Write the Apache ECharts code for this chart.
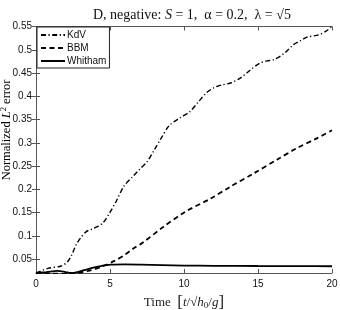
<!DOCTYPE html>
<html><head><meta charset="utf-8">
<script src="https://cdn.jsdelivr.net/npm/echarts@6/dist/echarts.min.js"></script>
<style>html,body{margin:0;padding:0;background:#fff}#c{width:340px;height:310px}</style>
</head><body><div id="c"></div>
<script>
const kdvT = [0,0.8,1.7,2.1,2.4,2.7,3.0,3.4,3.9,4.5,4.95,5.4,5.95,6.5,7.0,7.5,8.0,8.5,9.0,9.7,10.4,11.0,11.5,12.0,12.5,13.1,13.8,14.5,15.1,15.6,16.1,16.8,17.4,17.9,18.3,19.1,19.6,20];
const kdvV = [0.02,0.03,0.035,0.043,0.058,0.08,0.095,0.109,0.116,0.127,0.148,0.173,0.207,0.226,0.243,0.259,0.285,0.312,0.337,0.353,0.367,0.389,0.407,0.418,0.424,0.428,0.439,0.457,0.471,0.476,0.479,0.493,0.511,0.52,0.527,0.532,0.54,0.55];
const bbmT = [0,1,2,2.5,3.0,3.6,4.4,5.3,5.95,6.6,7.2,8.6,10.1,11.8,13.1,14.7,16.3,17.6,19,20];
const bbmV = [0.02,0.019,0.018,0.019,0.021,0.025,0.033,0.046,0.058,0.073,0.085,0.119,0.152,0.18,0.205,0.234,0.264,0.288,0.31,0.327];
const whiT = [0,0.7,1.45,2.0,2.35,2.8,3.24,3.8,4.37,5.05,6,7.1,8.5,10,12,15,18,20];
const whiV = [0.02,0.022,0.0245,0.022,0.02,0.022,0.026,0.031,0.035,0.038,0.0385,0.038,0.037,0.036,0.0355,0.035,0.0347,0.0345];
const yTicks = [0.05,0.1,0.15,0.2,0.25,0.3,0.35,0.4,0.45,0.5,0.55];
const xTicks = [0,5,10,15,20];
const seriesNames = ['KdV','BBM','Whitham'];

const zip = (a,b)=>a.map((t,i)=>[t,b[i]]);
const chart = echarts.init(document.getElementById('c'), null, {renderer:'canvas'});
const serif = '"Liberation Serif","DejaVu Serif",serif';
const sans = '"Liberation Sans",Arial,sans-serif';
const axisCol = '#555';
const rs = (o)=>Object.assign({fontFamily:serif,fontSize:14,color:'#111',fontWeight:'normal'},o);
chart.setOption({
  animation:false,
  backgroundColor:'#fff',
  title:{
    text:'{n|D, negative: }{i|S}{n| = 1,  α = 0.2,  λ = √5}',
    left:88, top:3,
    textStyle:{fontWeight:'normal',rich:{n:rs({}),i:rs({fontStyle:'italic'})}}
  },
  graphic:[{
    type:'text', x:7, y:130, rotation:Math.PI/2,
    style:{
      text:'{n|Normalized }{i|L}{s|2}{n| error}',
      align:'center', verticalAlign:'middle',
      rich:{n:rs({fontSize:12.5,color:'#808080'}),i:rs({fontSize:12.5,fontStyle:'italic',color:'#808080'}),s:rs({fontSize:8.5,color:'#808080',padding:[0,0,6,0]})}
    }
  }],
  grid:{left:36,right:8,top:26.5,bottom:37,containLabel:false,outerBoundsMode:'none'},
  legend:{
    data:seriesNames, orient:'vertical', left:37, top:27,
    backgroundColor:'#fff', borderColor:'#222', borderWidth:1,
    padding:[3,3,2,3], itemGap:3, itemWidth:24, itemHeight:10,
    itemStyle:{opacity:0},
    textStyle:{fontFamily:sans,fontSize:10,color:'#111',padding:[0,0,0,-3]}
  },
  xAxis:[{
    type:'value', min:0, max:20, interval:5,
    axisLine:{show:true,lineStyle:{color:axisCol}},
    axisTick:{inside:true,length:4,lineStyle:{color:axisCol}},
    axisLabel:{fontFamily:sans,fontSize:10,color:'#111',margin:6},
    splitLine:{show:false},
    name:'{n|Time  }{b|[}{i|t}{n|/√}{i|h}{s|0}{n|/}{i|g}{b|]}',
    nameLocation:'middle', nameGap:21,
    nameTextStyle:{rich:{n:rs({fontSize:13,color:'#222'}),i:rs({fontSize:13,fontStyle:'italic',color:'#222'}),s:rs({fontSize:9,color:'#222',padding:[6,0,0,0]}),b:rs({fontSize:17,color:'#222'})}}
  },{
    type:'value', min:0, max:20, interval:5, position:'top',
    axisLine:{show:true,lineStyle:{color:axisCol}},
    axisTick:{inside:true,length:4,lineStyle:{color:axisCol}},
    axisLabel:{show:false}, splitLine:{show:false}
  }],
  yAxis:[{
    type:'value', min:0.02, max:0.55,
    axisLine:{show:true,lineStyle:{color:axisCol}},
    axisTick:{inside:true,length:4,lineStyle:{color:axisCol},customValues:yTicks},
    axisLabel:{fontFamily:sans,fontSize:10,color:'#111',margin:4,customValues:yTicks,formatter:v=>String(+v.toFixed(2))},
    splitLine:{show:false}
  },{
    type:'value', min:0.02, max:0.55, position:'right',
    axisLine:{show:true,lineStyle:{color:axisCol}},
    axisTick:{inside:true,length:4,lineStyle:{color:axisCol},customValues:yTicks},
    axisLabel:{show:false,customValues:yTicks}, splitLine:{show:false}
  }],
  series:[
    {name:'KdV',type:'line',data:zip(kdvT,kdvV),symbol:'none',smooth:0.3,
     lineStyle:{color:'#000',width:1.4,type:[5,2.5,1.2,2.5]},itemStyle:{color:'#000'}},
    {name:'BBM',type:'line',data:zip(bbmT,bbmV),symbol:'none',smooth:0.3,
     lineStyle:{color:'#000',width:1.8,type:[5,3.5]},itemStyle:{color:'#000'}},
    {name:'Whitham',type:'line',data:zip(whiT,whiV),symbol:'none',smooth:0.3,
     lineStyle:{color:'#000',width:1.8,type:'solid'},itemStyle:{color:'#000'}}
  ]
});
</script></body></html>
